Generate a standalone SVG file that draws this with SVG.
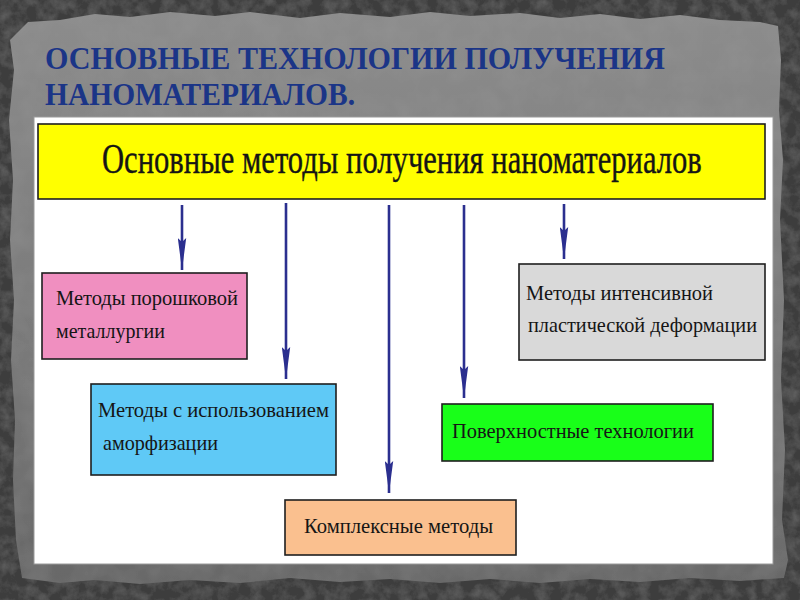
<svg xmlns="http://www.w3.org/2000/svg" width="800" height="600" viewBox="0 0 800 600">
  <defs>
    <filter id="grain" x="0" y="0" width="100%" height="100%">
      <feTurbulence type="fractalNoise" baseFrequency="0.08" numOctaves="4" seed="3" result="n"/>
      <feColorMatrix type="matrix" in="n" values="0 0 0 0 0.2  0 0 0 0 0.2  0 0 0 0 0.2  0 0 0 0.8 -0.3" result="g"/>
      <feComposite in="g" in2="SourceGraphic" operator="over"/>
    </filter>
    <filter id="grain2" x="0" y="0" width="100%" height="100%">
      <feTurbulence type="fractalNoise" baseFrequency="0.04" numOctaves="3" seed="8" result="n"/>
      <feColorMatrix type="matrix" in="n" values="0 0 0 0 0.4  0 0 0 0 0.4  0 0 0 0 0.4  0 0 0 0.25 -0.08" result="g"/>
      <feComposite in="g" in2="SourceGraphic" operator="atop"/>
    </filter>
    <linearGradient id="slabGrad" x1="0" y1="0" x2="0" y2="1">
      <stop offset="0" stop-color="#8c8c8c"/>
      <stop offset="0.5" stop-color="#7c7c7c"/>
      <stop offset="1" stop-color="#686868"/>
    </linearGradient>
    <marker id="arrow" viewBox="0 -4.5 32 9" refX="32" refY="0" markerWidth="32" markerHeight="9" markerUnits="userSpaceOnUse" orient="auto">
      <path d="M0,-4.2 L32,0 L0,4.2 L4,0 Z" fill="#2b2f8f"/>
    </marker>
    <style>
      .title { font-family: "Liberation Serif", "DejaVu Serif", serif; font-weight: bold; font-size: 31px; fill: #1b3587; }
      .box { stroke: #1e1e1e; stroke-width: 1.6; }
      .lbl { font-family: "Liberation Serif", "Times New Roman", serif; font-size: 21px; fill: #151515; }
      .main { font-family: "Liberation Serif", "Times New Roman", serif; font-size: 42px; fill: #151515; }
      .conn { stroke: #2b2f8f; stroke-width: 2.6; fill: none; marker-end: url(#arrow); }
    </style>
  </defs>

  <!-- background -->
  <rect x="0" y="0" width="800" height="600" fill="#3c3c3c" filter="url(#grain)"/>

  <!-- torn paper slab -->
  <path d="M28,22 L60,20 L95,14 L130,17 L170,12 L215,16 L250,12 L300,18 L340,13 L390,17 L430,12 L470,16 L520,13 L560,18 L600,14 L640,19 L680,15 L720,20 L760,22 L778,26 L781,60 L779,110 L783,160 L780,220 L784,300 L781,380 L785,450 L782,520 L788,560 L784,578 L740,581 L690,578 L640,582 L590,579 L540,583 L490,579 L440,583 L390,579 L340,582 L290,578 L240,583 L190,580 L140,584 L95,580 L60,583 L22,578 L16,540 L13,480 L15,420 L11,360 L14,300 L10,240 L13,180 L9,120 L14,70 L10,40 Z" fill="url(#slabGrad)" filter="url(#grain2)"/>

  <!-- title -->
  <g id="title">
    <text class="title" x="45" y="69" textLength="620" lengthAdjust="spacingAndGlyphs">ОСНОВНЫЕ ТЕХНОЛОГИИ ПОЛУЧЕНИЯ</text>
    <text class="title" x="45" y="105" textLength="310" lengthAdjust="spacingAndGlyphs">НАНОМАТЕРИАЛОВ.</text>
  </g>

  <!-- white panel -->
  <rect x="34" y="117" width="739" height="447" fill="#ffffff" stroke="#9a9a9a" stroke-width="1"/>

  <!-- connectors -->
  <g id="connectors">
    <line class="conn" x1="182" y1="205" x2="182" y2="270"/>
    <line class="conn" x1="286" y1="203" x2="286" y2="379"/>
    <line class="conn" x1="389" y1="205" x2="389" y2="493"/>
    <line class="conn" x1="464" y1="205" x2="464" y2="398"/>
    <line class="conn" x1="564" y1="204" x2="564" y2="259"/>
  </g>

  <!-- nodes -->
  <g id="node-main">
    <rect class="box" x="38" y="124" width="727" height="75" fill="#ffff00"/>
    <text class="main" transform="translate(102,173) scale(0.78,1)" x="0" y="0" textLength="769" lengthAdjust="spacingAndGlyphs" stroke="#151515" stroke-width="0.4">Основные методы получения наноматериалов</text>
  </g>

  <g id="node-powder">
    <rect class="box" x="42" y="273" width="205" height="86" fill="#f08fc0"/>
    <text class="lbl" x="56" y="305" textLength="182" lengthAdjust="spacingAndGlyphs">Методы порошковой</text>
    <text class="lbl" x="56" y="338" textLength="109" lengthAdjust="spacingAndGlyphs">металлургии</text>
  </g>

  <g id="node-plastic">
    <rect class="box" x="519" y="264" width="246" height="96" fill="#d9d9d9"/>
    <text class="lbl" x="526" y="300" textLength="187" lengthAdjust="spacingAndGlyphs">Методы интенсивной</text>
    <text class="lbl" x="528" y="332" textLength="229" lengthAdjust="spacingAndGlyphs">пластической деформации</text>
  </g>

  <g id="node-amorph">
    <rect class="box" x="91" y="384" width="245" height="91" fill="#5fc9f6"/>
    <text class="lbl" x="98" y="417" textLength="231" lengthAdjust="spacingAndGlyphs">Методы с использованием</text>
    <text class="lbl" x="103" y="450" textLength="115" lengthAdjust="spacingAndGlyphs">аморфизации</text>
  </g>

  <g id="node-surface">
    <rect class="box" x="442" y="404" width="271" height="57" fill="#19ff19"/>
    <text class="lbl" x="452" y="438" textLength="242" lengthAdjust="spacingAndGlyphs">Поверхностные технологии</text>
  </g>

  <g id="node-complex">
    <rect class="box" x="285" y="500" width="231" height="55" fill="#fac08f"/>
    <text class="lbl" x="304" y="533" textLength="189" lengthAdjust="spacingAndGlyphs">Комплексные методы</text>
  </g>
</svg>
